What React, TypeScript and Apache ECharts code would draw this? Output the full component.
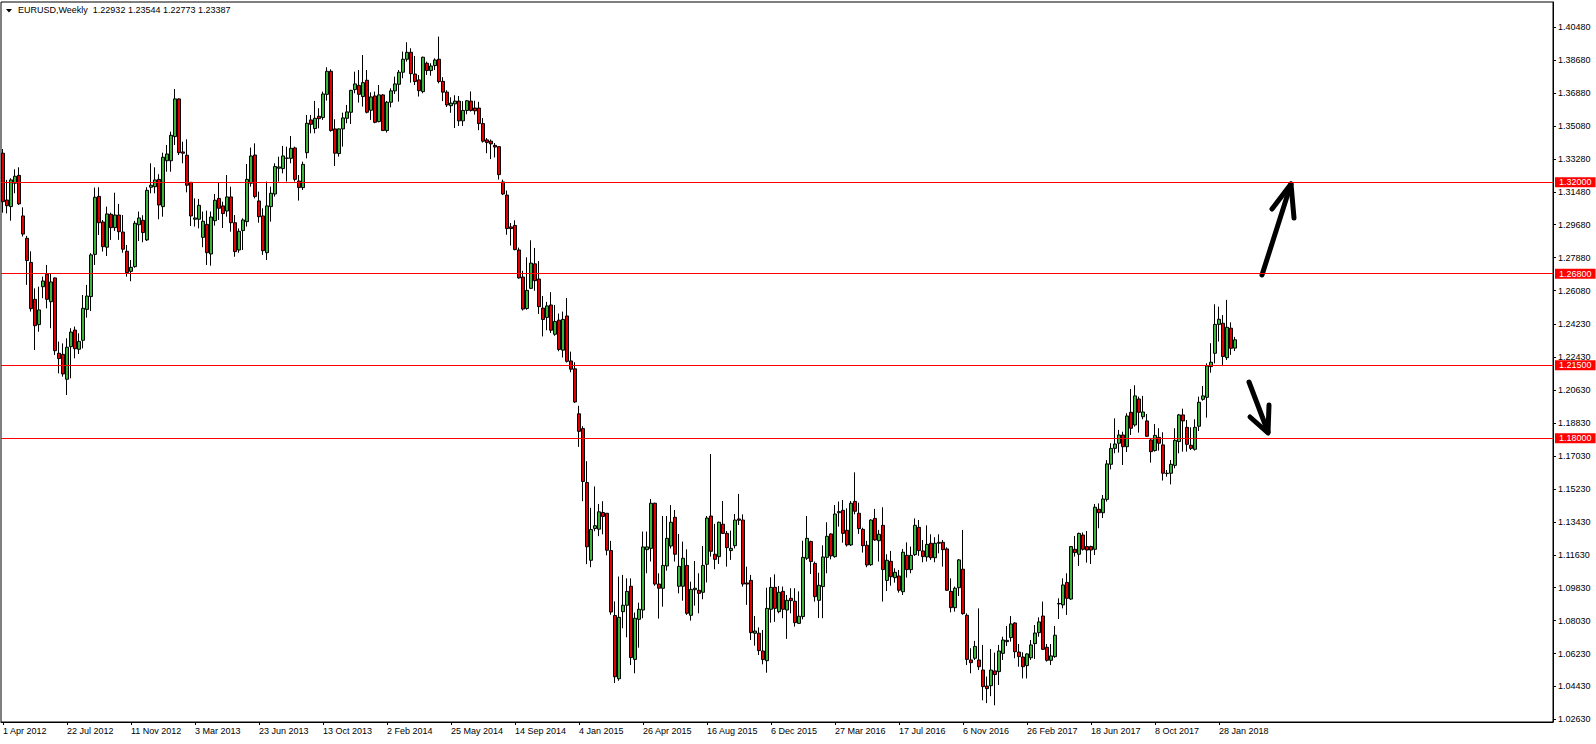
import React, { useEffect, useRef } from "react";
import * as echarts from "echarts";

// [open, close, low, high] per weekly bar, week starts from 1 Apr 2012
const weeks2012 = [
  [1.3359,1.3094,1.3034,1.3382],[1.3103,1.3072,1.3030,1.3213],[1.3067,1.3213,1.2990,1.3222],[1.3195,1.3233,1.3140,1.3271],
  [1.3238,1.3082,1.3076,1.3282],[1.3016,1.2917,1.2903,1.3063],[1.2894,1.2772,1.2639,1.2907],[1.2762,1.2509,1.2493,1.2823],
  [1.2560,1.2416,1.2283,1.2620],[1.2422,1.2502,1.2383,1.2629],[1.2629,1.2660,1.2566,1.2684],[1.2697,1.2560,1.2511,1.2748],
  [1.2547,1.2655,1.2402,1.2702],[1.2677,1.2279,1.2256,1.2680],[1.2265,1.2236,1.2155,1.2329],[1.2259,1.2152,1.2137,1.2319],
  [1.2123,1.2298,1.2037,1.2347],[1.2301,1.2381,1.2128,1.2402],[1.2392,1.2290,1.2237,1.2411],[1.2287,1.2330,1.2261,1.2374],
  [1.2336,1.2511,1.2292,1.2584],[1.2505,1.2578,1.2460,1.2639],[1.2575,1.2803,1.2496,1.2812],[1.2806,1.3118,1.2748,1.3171],
  [1.3123,1.2979,1.2912,1.3173],[1.2983,1.2848,1.2821,1.2994],[1.2845,1.3027,1.2797,1.3067],[1.3025,1.2952,1.2885,1.3034],
  [1.2952,1.3021,1.2934,1.3143],[1.3021,1.2930,1.2885,1.3082],[1.2928,1.2834,1.2815,1.3021],[1.2823,1.2706,1.2684,1.2857],
  [1.2713,1.2735,1.2659,1.2775],[1.2739,1.2976,1.2733,1.2989],[1.2968,1.3005,1.2879,1.3040],[1.2992,1.2925,1.2872,1.3020],
  [1.2885,1.3156,1.2879,1.3173],[1.3173,1.3184,1.3140,1.3304],[1.3176,1.3213,1.3140,1.3282],[1.3216,1.3076,1.2998,1.3244],
];
const weeks2013 = [
  [1.3067,1.3337,1.3012,1.3362],[1.3318,1.3355,1.3258,1.3404],[1.3318,1.3457,1.3258,1.3477],[1.3450,1.3656,1.3404,1.3710],
  [1.3656,1.3362,1.3349,1.3659],[1.3366,1.3359,1.3304,1.3422],[1.3348,1.3184,1.3145,1.3435],[1.3200,1.3016,1.2961,1.3200],
  [1.2998,1.3005,1.2958,1.3112],[1.2998,1.3074,1.2948,1.3109],[1.2899,1.2987,1.2845,1.3040],[1.2970,1.2815,1.2748,1.3045],
  [1.2808,1.3010,1.2744,1.3040],[1.2990,1.3102,1.2963,1.3136],[1.3112,1.3058,1.2994,1.3200],[1.3071,1.3029,1.2950,1.3094],
  [1.3043,1.3120,1.3012,1.3240],[1.3120,1.2979,1.2930,1.3176],[1.2979,1.2821,1.2793,1.3021],[1.2830,1.2932,1.2815,1.2948],
  [1.2936,1.2994,1.2830,1.3003],[1.2985,1.3216,1.2958,1.3300],[1.3195,1.3344,1.3176,1.3390],[1.3349,1.3122,1.3112,1.3413],
  [1.3098,1.3012,1.2979,1.3149],[1.3016,1.2826,1.2803,1.3058],[1.2815,1.3071,1.2775,1.3204],[1.3067,1.3140,1.2985,1.3176],
  [1.3136,1.3286,1.3122,1.3304],[1.3277,1.3284,1.3204,1.3340],[1.3275,1.3344,1.3249,1.3399],[1.3331,1.3333,1.3204,1.3395],
  [1.3331,1.3386,1.3304,1.3453],[1.3388,1.3216,1.3204,1.3395],[1.3207,1.3171,1.3100,1.3240],[1.3171,1.3298,1.3158,1.3313],
  [1.3362,1.3523,1.3331,1.3568],[1.3541,1.3517,1.3468,1.3568],[1.3494,1.3550,1.3468,1.3645],[1.3561,1.3548,1.3495,1.3605],
  [1.3554,1.3683,1.3541,1.3696],[1.3681,1.3807,1.3647,1.3829],[1.3807,1.3483,1.3477,1.3818],[1.3492,1.3359,1.3289,1.3545],
  [1.3357,1.3492,1.3340,1.3495],[1.3492,1.3552,1.3395,1.3581],[1.3550,1.3585,1.3523,1.3623],[1.3583,1.3703,1.3519,1.3705],
  [1.3707,1.3738,1.3687,1.3805],[1.3730,1.3681,1.3636,1.3814],[1.3669,1.3745,1.3614,1.3896],[1.3758,1.3583,1.3577,1.3814],
];
const weeks2014 = [
  [1.3594,1.3667,1.3541,1.3692],[1.3672,1.3528,1.3523,1.3696],[1.3532,1.3678,1.3528,1.3732],[1.3678,1.3483,1.3481,1.3683],
  [1.3483,1.3638,1.3472,1.3645],[1.3638,1.3700,1.3610,1.3714],[1.3700,1.3738,1.3683,1.3778],[1.3736,1.3802,1.3641,1.3814],
  [1.3802,1.3873,1.3769,1.3915],[1.3873,1.3911,1.3860,1.3966],[1.3911,1.3794,1.3745,1.3933],[1.3792,1.3751,1.3732,1.3891],
  [1.3760,1.3701,1.3669,1.3787],[1.3696,1.3884,1.3687,1.3887],[1.3851,1.3811,1.3787,1.3860],[1.3811,1.3836,1.3783,1.3851],
  [1.3838,1.3869,1.3814,1.3878],[1.3873,1.3751,1.3741,1.3997],[1.3752,1.3693,1.3644,1.3775],[1.3693,1.3623,1.3612,1.3703],
  [1.3619,1.3633,1.3580,1.3665],[1.3629,1.3644,1.3497,1.3676],[1.3644,1.3536,1.3508,1.3672],[1.3536,1.3593,1.3508,1.3644],
  [1.3593,1.3646,1.3572,1.3650],[1.3644,1.3593,1.3587,1.3697],[1.3606,1.3591,1.3570,1.3646],[1.3606,1.3521,1.3485,1.3640],
  [1.3521,1.3425,1.3417,1.3551],[1.3432,1.3417,1.3359,1.3442],[1.3425,1.3410,1.3327,1.3434],[1.3402,1.3393,1.3336,1.3415],
  [1.3395,1.3242,1.3215,1.3395],[1.3202,1.3136,1.3130,1.3215],[1.3130,1.2947,1.2913,1.3155],[1.2956,1.2947,1.2854,1.2977],
  [1.2964,1.2832,1.2828,1.2992],[1.2830,1.2677,1.2673,1.2843],[1.2682,1.2507,1.2499,1.2716],[1.2510,1.2609,1.2503,1.2790],
  [1.2620,1.2758,1.2616,1.2883],[1.2754,1.2662,1.2607,1.2841],[1.2671,1.2520,1.2480,1.2769],[1.2512,1.2450,1.2357,1.2578],
  [1.2461,1.2524,1.2391,1.2546],[1.2529,1.2391,1.2376,1.2599],[1.2369,1.2439,1.2361,1.2529],[1.2446,1.2286,1.2276,1.2482],
  [1.2282,1.2450,1.2242,1.2493],[1.2469,1.2221,1.2214,1.2567],[1.2223,1.2178,1.2161,1.2274],[1.2180,1.1999,1.1993,1.2216],
];
const weeks2015 = [
  [1.1934,1.1838,1.1753,1.1978],[1.1853,1.1564,1.1456,1.1866],[1.1558,1.1207,1.1112,1.1675],[1.1133,1.1301,1.1095,1.1420],
  [1.1307,1.1322,1.1292,1.1537],[1.1303,1.1398,1.1265,1.1441],[1.1394,1.1373,1.1275,1.1456],[1.1390,1.1188,1.1160,1.1390],
  [1.1186,1.0850,1.0835,1.1239],[1.0831,1.0496,1.0462,1.0908],[1.0485,1.0821,1.0474,1.1044],[1.0852,1.0887,1.0761,1.1053],
  [1.0887,1.0963,1.0712,1.1034],[1.0991,1.0601,1.0560,1.1034],[1.0591,1.0816,1.0515,1.0847],[1.0810,1.0865,1.0655,1.0901],
  [1.0861,1.1206,1.0816,1.1290],[1.1191,1.1206,1.1062,1.1290],[1.1198,1.1445,1.1126,1.1468],[1.1445,1.1003,1.0994,1.1448],
  [1.1003,1.0980,1.0814,1.1062],[1.0980,1.1105,1.0879,1.1375],[1.1102,1.1253,1.1076,1.1375],[1.1211,1.1341,1.1198,1.1435],
  [1.1368,1.1166,1.1126,1.1408],[1.0991,1.1100,1.0952,1.1277],[1.0991,1.1144,1.0912,1.1235],[1.1105,1.0843,1.0834,1.1193],
  [1.0832,1.0974,1.0803,1.1016],[1.0972,1.0980,1.0885,1.1129],[1.0969,1.0952,1.0843,1.1062],[1.0958,1.1105,1.0920,1.1211],
  [1.1111,1.1364,1.1012,1.1375],[1.1375,1.1182,1.1153,1.1714],[1.1166,1.1138,1.1084,1.1332],[1.1153,1.1341,1.1113,1.1344],
  [1.1330,1.1280,1.1277,1.1457],[1.1280,1.1202,1.1098,1.1293],[1.1186,1.1198,1.1135,1.1295],[1.1213,1.1353,1.1198,1.1386],
  [1.1359,1.1352,1.1326,1.1496],[1.1353,1.1003,1.0989,1.1384],[1.1009,1.1003,1.0889,1.1098],[1.1023,1.0737,1.0697,1.1053],
  [1.0734,1.0746,1.0666,1.0828],[1.0734,1.0639,1.0615,1.0766],[1.0637,1.0590,1.0564,1.0752],[1.0584,1.0870,1.0518,1.0983],
  [1.0865,1.0985,1.0792,1.1040],[1.0985,1.0870,1.0796,1.1056],[1.0852,1.0958,1.0843,1.0992],[1.0963,1.0865,1.0816,1.0989],
];
const weeks2016 = [
  [1.0861,1.0914,1.0703,1.0943],[1.0925,1.0912,1.0843,1.0980],[1.0909,1.0792,1.0770,1.0980],[1.0788,1.0827,1.0785,1.0963],
  [1.0825,1.1149,1.0810,1.1240],[1.1144,1.1253,1.1135,1.1375],[1.1235,1.1126,1.1058,1.1240],[1.1116,1.0934,1.0907,1.1126],
  [1.0914,1.0996,1.0817,1.1065],[1.0989,1.1151,1.0816,1.1215],[1.1149,1.1264,1.1062,1.1341],[1.1277,1.1157,1.1138,1.1280],
  [1.1153,1.1386,1.1147,1.1435],[1.1393,1.1399,1.1317,1.1454],[1.1406,1.1280,1.1229,1.1463],[1.1297,1.1217,1.1208,1.1417],
  [1.1217,1.1445,1.1211,1.1457],[1.1455,1.1401,1.1384,1.1614],[1.1390,1.1306,1.1277,1.1448],[1.1302,1.1213,1.1175,1.1311],
  [1.1215,1.1107,1.1095,1.1239],[1.1109,1.1353,1.1102,1.1357],[1.1362,1.1244,1.1239,1.1414],[1.1240,1.1275,1.1126,1.1299],
  [1.1324,1.1082,1.0907,1.1423],[1.1023,1.1133,1.0965,1.1166],[1.1127,1.1043,1.0994,1.1184],[1.1038,1.1067,1.1011,1.1089],
  [1.1047,1.0969,1.0956,1.1080],[1.0961,1.1177,1.0943,1.1195],[1.1160,1.1082,1.1038,1.1231],[1.1082,1.1160,1.1062,1.1208],
  [1.1164,1.1324,1.1157,1.1362],[1.1313,1.1186,1.1157,1.1353],[1.1184,1.1153,1.1122,1.1244],[1.1151,1.1220,1.1126,1.1324],
  [1.1226,1.1147,1.1135,1.1275],[1.1147,1.1226,1.1122,1.1259],[1.1226,1.1231,1.1171,1.1275],[1.1231,1.1191,1.1098,1.1244],
  [1.1195,1.0969,1.0965,1.1204],[1.0963,1.0874,1.0848,1.1034],[1.0874,1.0980,1.0852,1.0989],[1.0983,1.1135,1.0938,1.1140],
  [1.1084,1.0841,1.0835,1.1299],[1.0832,1.0591,1.0560,1.0843],[1.0588,1.0573,1.0515,1.0652],[1.0597,1.0662,1.0588,1.0692],
  [1.0588,1.0551,1.0533,1.0870],[1.0533,1.0442,1.0367,1.0670],[1.0445,1.0431,1.0352,1.0497],[1.0447,1.0533,1.0390,1.0648],
];
const weeks2017 = [
  [1.0528,1.0508,1.0340,1.0628],[1.0524,1.0637,1.0451,1.0670],[1.0624,1.0697,1.0588,1.0715],[1.0688,1.0695,1.0664,1.0774],
  [1.0710,1.0785,1.0688,1.0828],[1.0790,1.0633,1.0597,1.0794],[1.0631,1.0606,1.0551,1.0675],[1.0604,1.0551,1.0487,1.0630],
  [1.0557,1.0621,1.0487,1.0624],[1.0600,1.0670,1.0588,1.0697],[1.0677,1.0735,1.0593,1.0779],[1.0737,1.0796,1.0715,1.0821],
  [1.0828,1.0646,1.0642,1.0907],[1.0657,1.0586,1.0579,1.0675],[1.0586,1.0610,1.0560,1.0675],[1.0606,1.0723,1.0600,1.0774],
  [1.0894,1.0897,1.0812,1.0925],[1.0889,1.0998,1.0870,1.1034],[1.1012,1.0925,1.0834,1.1062],[1.0921,1.1208,1.0916,1.1211],
  [1.1193,1.1175,1.1153,1.1266],[1.1166,1.1280,1.1102,1.1284],[1.1271,1.1193,1.1186,1.1285],[1.1208,1.1189,1.1120,1.1293],
  [1.1208,1.1189,1.1113,1.1213],[1.1193,1.1423,1.1162,1.1441],[1.1412,1.1393,1.1308,1.1444],[1.1393,1.1468,1.1364,1.1490],
  [1.1466,1.1660,1.1454,1.1681],[1.1658,1.1745,1.1630,1.1773],[1.1745,1.1769,1.1718,1.1909],[1.1773,1.1818,1.1722,1.1846],
  [1.1818,1.1754,1.1654,1.1836],[1.1754,1.1922,1.1725,1.1937],[1.1942,1.1855,1.1818,1.2070],[1.1873,1.2032,1.1864,1.2090],
  [1.2015,1.1942,1.1831,1.2028],[1.1918,1.1944,1.1904,1.2032],[1.1895,1.1811,1.1807,1.1933],[1.1791,1.1727,1.1667,1.1802],
  [1.1733,1.1816,1.1727,1.1878],[1.1805,1.1773,1.1733,1.1855],[1.1764,1.1609,1.1569,1.1833],[1.1607,1.1609,1.1590,1.1627],
  [1.1609,1.1658,1.1548,1.1681],[1.1652,1.1789,1.1636,1.1855],[1.1782,1.1928,1.1718,1.1933],[1.1928,1.1895,1.1727,1.1962],
  [1.1860,1.1767,1.1727,1.1900],[1.1762,1.1745,1.1736,1.1860],[1.1740,1.1860,1.1733,1.1904],[1.1866,1.1997,1.1840,1.2028],
  [1.2013,1.2032,1.2006,1.2086],
];
const weeks2018 = [
  [1.2024,1.2196,1.1913,1.2210],[1.2192,1.2216,1.2159,1.2320],[1.2265,1.2423,1.2210,1.2533],[1.2423,1.2451,1.2329,1.2520],
  [1.2429,1.2247,1.2201,1.2474],[1.2241,1.2407,1.2228,1.2557],[1.2402,1.2292,1.2256,1.2434],[1.22932,1.23387,1.22773,1.23544],
];

const xTickLabels = [
  "1 Apr 2012","22 Jul 2012","11 Nov 2012","3 Mar 2013","23 Jun 2013","13 Oct 2013","2 Feb 2014",
  "25 May 2014","14 Sep 2014","4 Jan 2015","26 Apr 2015","16 Aug 2015","6 Dec 2015","27 Mar 2016",
  "17 Jul 2016","6 Nov 2016","26 Feb 2017","18 Jun 2017","8 Oct 2017","28 Jan 2018",
];
const X_TICK_STEP = 16;
const TOTAL_SLOTS = 388;

const yTickValues = [
  1.4048,1.3868,1.3688,1.3508,1.3328,1.3148,1.2968,1.2788,1.2608,1.2423,1.2243,
  1.2063,1.1883,1.1703,1.1523,1.1343,1.1163,1.0983,1.0803,1.0623,1.0443,1.0263,
];
const levelLines = [1.32, 1.268, 1.215, 1.18];
const lastPrice = 1.23387;
const titleText = "EURUSD,Weekly  1.22932 1.23544 1.22773 1.23387";

const candles = [...weeks2012, ...weeks2013, ...weeks2014, ...weeks2015, ...weeks2016, ...weeks2017, ...weeks2018];
const categories = Array.from({ length: TOTAL_SLOTS }, (_, i) => "w" + i);

const FONT = "Liberation Sans, Arial, sans-serif";
const BULL = "#3cb43c";
const BEAR = "#e00000";

export default function App() {
  const ref = useRef<HTMLDivElement>(null);
  useEffect(() => {
    if (!ref.current) return;
    const chart = echarts.init(ref.current, null, { renderer: "svg" });
    const markData: any[] = levelLines.map((v) => ({
      yAxis: v,
      lineStyle: { color: "#ff0000", width: 1, type: "solid" },
      label: {
        show: true, position: "end", distance: 2, formatter: v.toFixed(5),
        backgroundColor: "#ff0000", color: "#ffffff", fontSize: 9, fontFamily: FONT,
        padding: [1, 4, 0, 4], lineHeight: 9,
      },
    }));
    markData.push({
      yAxis: lastPrice,
      lineStyle: { color: "#000", width: 1, opacity: 0 },
      label: {
        show: true, position: "end", distance: 2, formatter: lastPrice.toFixed(5),
        backgroundColor: "#000000", color: "#ffffff", fontSize: 9, fontFamily: FONT,
        padding: [1, 4, 0, 4], lineHeight: 9,
      },
    });
    const arrowStyle = { stroke: "#000", lineWidth: 5, lineCap: "round", lineJoin: "round", fill: null };
    chart.setOption({
      animation: false,
      backgroundColor: "#ffffff",
      title: {
        text: titleText, left: 18, top: 5, padding: 0,
        textStyle: { fontSize: 9, fontWeight: "normal", color: "#000", fontFamily: FONT },
      },
      grid: { left: 1, right: 43, top: 2, bottom: 22, show: true, borderColor: "#000", borderWidth: 1, backgroundColor: "#fff" },
      xAxis: {
        type: "category",
        data: categories,
        boundaryGap: true,
        axisLine: { lineStyle: { color: "#000", width: 1 } },
        axisTick: {
          show: true, alignWithLabel: true, length: 3,
          interval: (i: number) => i % X_TICK_STEP === 0 && i / X_TICK_STEP < xTickLabels.length,
          lineStyle: { color: "#000" },
        },
        axisLabel: {
          show: true, align: "left", margin: 4, fontSize: 9, color: "#000", fontFamily: FONT,
          interval: (i: number) => i % X_TICK_STEP === 0 && i / X_TICK_STEP < xTickLabels.length,
          formatter: (_v: string, i: number) => xTickLabels[i / X_TICK_STEP] ?? "",
        },
        splitLine: { show: false },
      },
      yAxis: {
        type: "value",
        position: "right",
        min: 1.024856,
        max: 1.4186,
        scale: true,
        axisLine: { show: true, lineStyle: { color: "#000", width: 1 } },
        axisTick: { show: true, length: 3, customValues: yTickValues, lineStyle: { color: "#000" } },
        axisLabel: {
          show: true, margin: 5, fontSize: 9, color: "#000", fontFamily: FONT,
          customValues: yTickValues,
          formatter: (v: number) => v.toFixed(5),
        },
        splitLine: { show: false },
      },
      series: [
        {
          type: "candlestick",
          data: candles,
          barWidth: 3,
          itemStyle: {
            color: BULL, color0: BEAR,
            borderColor: "#000", borderColor0: "#000", borderColorDoji: "#000",
            borderWidth: 1,
          },
          markLine: {
            silent: true, symbol: "none", animation: false,
            data: markData,
          },
        },
      ],
      graphic: [
        { type: "polygon", shape: { points: [[6, 9], [12, 9], [9, 12.5]] }, style: { fill: "#000" } },
        { type: "polyline", shape: { points: [[1262, 275], [1291, 184]] }, style: arrowStyle },
        { type: "polyline", shape: { points: [[1272, 209], [1291, 184], [1294, 218]] }, style: arrowStyle },
        { type: "polyline", shape: { points: [[1249, 382], [1268, 432]] }, style: arrowStyle },
        { type: "polyline", shape: { points: [[1250, 417], [1268, 433], [1269, 405]] }, style: arrowStyle },
      ],
    });
    return () => chart.dispose();
  }, []);
  return <div ref={ref} style={{ position: "absolute", left: 0, top: 0, width: 1596, height: 744 }} />;
}
